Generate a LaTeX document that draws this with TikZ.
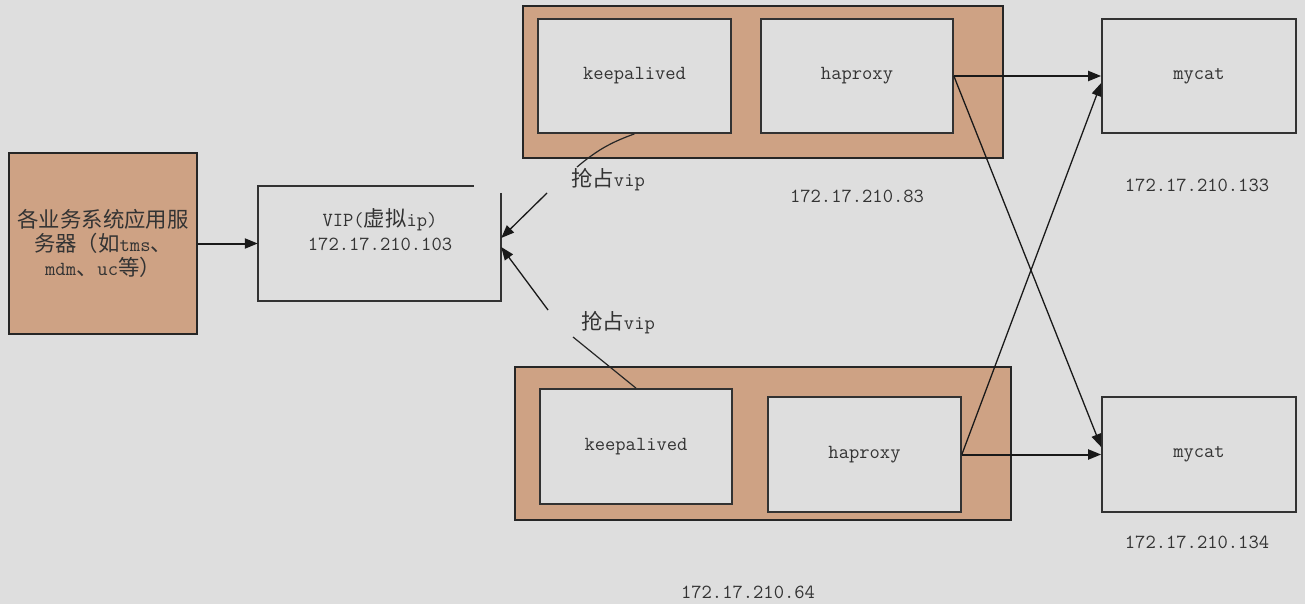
\documentclass[tikz,border=0pt]{standalone}
\usepackage{fontspec}
\usepackage{tikz}
\usetikzlibrary{arrows.meta}
\newfontfamily\cjk[Scale=1.07]{Noto Sans CJK SC}
\definecolor{bgc}{RGB}{222,222,222}
\definecolor{hostc}{RGB}{206,162,132}
\definecolor{ink}{RGB}{50,50,50}

\begin{document}
\begin{tikzpicture}
                [x=1pt, y=-1pt, font=\ttfamily\fontsize{20}{24}\selectfont,
                box/.style = {draw=ink, line width=1.7pt, fill=bgc, inner sep=0pt, text=black!80},
                box1/.style = {draw=black!85, line width=2pt, fill=hostc, inner sep=0pt},
                lbl/.style = {text=black!80, inner sep=1pt},
                arr/.style = {-{Triangle[length=13pt,width=10pt]}, line width=1.3pt, draw=black!90}]
                % Background
                \path[use as bounding box, fill=bgc] (0,0) rectangle (1305,604);
                % Application servers
                \node[box1, minimum width=188pt, minimum height=181pt, align=center, text=black!80] (srv) at (103,243.5) {{\cjk 各业务系统应用服}\\{\cjk 务器（如}tms{\cjk 、}\\mdm{\cjk 、}uc{\cjk 等）}};
                % VIP
                \node[minimum width=243pt, minimum height=115pt, inner sep=0pt] (vip) at (379.5,243.5) {};
                \node[lbl, align=center] (viptxt) at (380,229.5) {VIP({\cjk 虚拟}ip)\\172.17.210.103};
                \draw[ink, line width=1.7pt] ([yshift=-7pt]vip.north east) |- (vip.south west) |- ([xshift=-27pt]vip.north east);
                % Host 172.17.210.83
                \node[box1, minimum width=480pt, minimum height=152pt] (h83) at (763,82) {};
                \node[box, minimum width=193pt, minimum height=114pt] (k83) at (634.5,76) {keepalived};
                \node[box, minimum width=192pt, minimum height=114pt] (p83) at (857,76) {haproxy};
                % Host 172.17.210.64
                \node[box1, minimum width=496pt, minimum height=153pt] (h64) at (763,443.5) {};
                \node[box, minimum width=192pt, minimum height=115pt] (k64) at (636,446.5) {keepalived};
                \node[box, minimum width=193pt, minimum height=115pt] (p64) at (864.5,454.5) {haproxy};
                % mycat
                \node[box, minimum width=194pt, minimum height=114pt] (m133) at (1199,76) {mycat};
                \node[box, minimum width=194pt, minimum height=115pt] (m134) at (1199,454.5) {mycat};
                % Labels
                \node[lbl] (l83) at (857,196) {172.17.210.83};
                \node[lbl] (l64) at (748,592) {172.17.210.64};
                \node[lbl] (l133) at (1197,185) {172.17.210.133};
                \node[lbl] (l134) at (1197,542) {172.17.210.134};
                \node[lbl] (q83) at (608,180) {{\cjk 抢占}vip};
                \node[lbl] (q64) at (618,323) {{\cjk 抢占}vip};
                % Free ends
                \coordinate (e83) at (577,167);
                \coordinate (e64) at (573,337);
                \coordinate (s83) at (547,193);
                \coordinate (s64) at (548,310);
                % Lines
                \draw[arr, line width=2pt] (srv.east) -- (vip.west);
                \draw[black!85, line width=1.2pt] (k83.south) to[bend right=10] (e83);
                \draw[black!85, line width=1.2pt] (e64) -- (k64.north);
                \draw[arr] (s83) -- ([yshift=5.5pt]vip.east);
                \draw[arr] (s64) -- ([yshift=-3.5pt]vip.east);
                \draw[arr, line width=2pt] (p83.east) -- (m133.west);
                \draw[arr] (p83.east) -- ([yshift=7.5pt]m134.west);
                \draw[arr] (p64.east) -- ([yshift=-7pt]m133.west);
                \draw[arr, line width=2pt] (p64.east) -- (m134.west);
            \end{tikzpicture}
\end{document}
